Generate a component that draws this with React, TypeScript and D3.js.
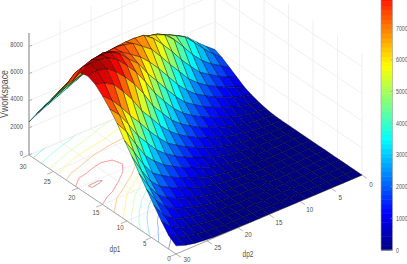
import React from 'react';
import * as d3 from 'd3';

// grid of the surface, one entry every 1.5 units
const dp1Values = d3.range(0, 30.5, 1.5);
const dp2Values = d3.range(0, 30.5, 1.5);

// Vworkspace, rows follow dp1 and columns follow dp2
const vworkspace = [
  [0, 0, 0, 5, 5, 5, 10, 10, 10, 15, 15, 20, 20, 25, 30, 40, 60, 120, 200, 350, 600],
  [0, 5, 5, 5, 10, 10, 10, 15, 15, 15, 20, 20, 25, 30, 45, 90, 150, 260, 390, 560, 1000],
  [0, 5, 5, 10, 10, 10, 15, 15, 15, 20, 20, 25, 35, 50, 110, 180, 300, 430, 610, 1000, 1700],
  [5, 5, 10, 10, 10, 15, 15, 15, 20, 20, 30, 40, 70, 125, 220, 330, 480, 670, 950, 1500, 2500],
  [5, 10, 10, 10, 15, 15, 20, 20, 25, 30, 45, 85, 145, 250, 375, 530, 760, 1020, 1450, 2200, 3300],
  [10, 10, 10, 15, 15, 20, 20, 25, 35, 50, 100, 170, 290, 415, 600, 830, 1120, 1430, 1950, 2900, 4100],
  [10, 15, 15, 20, 20, 20, 25, 40, 60, 110, 210, 320, 470, 650, 930, 1200, 1560, 1940, 2600, 3700, 5000],
  [15, 15, 20, 20, 20, 30, 45, 75, 130, 240, 360, 510, 740, 1000, 1320, 1660, 2080, 2540, 3500, 4700, 5800],
  [15, 20, 20, 25, 30, 50, 95, 160, 270, 400, 570, 810, 1100, 1400, 1790, 2200, 2760, 3470, 4600, 5800, 6700],
  [20, 20, 25, 40, 55, 120, 190, 310, 440, 630, 890, 1180, 1530, 1900, 2360, 2940, 3750, 4580, 5700, 6700, 7400],
  [20, 30, 40, 75, 125, 230, 340, 500, 700, 980, 1270, 1620, 2040, 2480, 3190, 3970, 4870, 5670, 6600, 7400, 8000],
  [30, 45, 90, 150, 260, 390, 550, 790, 1050, 1370, 1740, 2160, 2700, 3400, 4280, 5100, 6200, 7100, 7900, 8300, 8500],
  [50, 110, 180, 300, 430, 610, 860, 1150, 1460, 1860, 2300, 2880, 3680, 4500, 5700, 6700, 7500, 8200, 8700, 8850, 8750],
  [125, 220, 330, 480, 670, 950, 1230, 1590, 1970, 2440, 3085, 3900, 4800, 5900, 6900, 7700, 8400, 8850, 9000, 9000, 8600],
  [250, 375, 530, 760, 1020, 1340, 1690, 2120, 2590, 3320, 4160, 5030, 5880, 6900, 7500, 8200, 8600, 8700, 8650, 8400, 7700],
  [415, 600, 830, 1120, 1430, 1830, 2240, 2820, 3540, 4425, 5285, 6070, 6730, 7200, 7680, 8000, 8200, 8050, 7750, 7600, 6950],
  [650, 930, 1200, 1560, 1940, 2400, 3000, 3820, 4650, 5530, 6350, 6860, 7360, 7550, 7600, 7550, 7450, 7150, 6850, 6500, 6100],
  [1000, 1320, 1660, 2080, 2540, 3260, 4050, 4950, 5750, 6490, 7020, 7100, 7100, 7050, 6950, 6800, 6600, 6350, 6000, 5600, 5200],
  [1350, 1790, 2200, 2760, 3470, 4350, 5180, 5800, 6100, 6300, 6450, 6450, 6300, 6100, 5900, 5700, 5500, 5250, 4950, 4600, 4300],
  [1700, 2300, 2950, 3700, 4400, 4800, 5150, 5500, 5650, 5750, 5800, 5750, 5600, 5400, 5150, 4900, 4650, 4400, 4100, 3750, 3400],
  [1950, 2500, 3100, 3750, 4150, 4500, 4750, 4900, 5000, 5050, 5050, 5000, 4850, 4600, 4300, 4000, 3700, 3400, 3100, 2800, 2440],
];

const dpTicks = [0, 5, 10, 15, 20, 25, 30];
const zTicks = [0, 2000, 4000, 6000, 8000];
const zGrid = [0, 2000, 4000, 6000, 8000];
const barTicks = [0, 1000, 2000, 3000, 4000, 5000, 6000, 7000];
const contourLevels = [1000, 2000, 3000, 4000, 5000, 6000, 7000, 8000, 8950];

const zMax = 9300;
const jetStops = [0, 0.125, 0.375, 0.625, 0.875, 1];
const jetColors = ['#00007f', '#0000ff', '#00ffff', '#ffff00', '#ff0000', '#7f0000'];

const jet = d3.scaleLinear<string>()
  .domain(jetStops.map(d => d * zMax))
  .range(jetColors)
  .clamp(true);

// oblique view: each data axis gets its own screen offset
const xFromDp1 = d3.scaleLinear().domain([0, 30]).range([0, -147]);
const yFromDp1 = d3.scaleLinear().domain([0, 30]).range([0, -99]);
const xFromDp2 = d3.scaleLinear().domain([30, 0]).range([176, 362]);
const yFromDp2 = d3.scaleLinear().domain([30, 0]).range([254, 175]);
const yFromZ = d3.scaleLinear().domain([0, 9000]).range([0, -122]);
const barY = d3.scaleLinear().domain([0, 7000]).range([250, 28]);

// tick labels sit a little further from the axis at one end than at the other
const dp1LabelDx = d3.scaleLinear().domain([0, 30]).range([-7, -6]);
const dp1LabelDy = d3.scaleLinear().domain([0, 30]).range([5, 12]);
const dp2LabelDx = d3.scaleLinear().domain([0, 30]).range([9, 11]);
const dp2LabelDy = d3.scaleLinear().domain([0, 30]).range([10, 6]);

function project(dp1: number, dp2: number, z: number): [number, number] {
  return [xFromDp1(dp1) + xFromDp2(dp2), yFromDp1(dp1) + yFromDp2(dp2) + yFromZ(z)];
}

const line = d3.line();
const gridColor = '#ececec';
const axisColor = '#a0a0a0';
const textColor = '#505050';
const fontFamily = '"Liberation Sans", Arial, sans-serif';

function Label(props: { x: number; y: number; text: string; size?: number; sx?: number; anchor?: string; rotate?: number }) {
  const { x, y, text, size = 8, sx = 0.78, anchor = 'middle', rotate = 0 } = props;
  return (
    <text
      transform={`translate(${x},${y}) rotate(${rotate}) scale(${sx},1)`}
      fontSize={size}
      fontFamily={fontFamily}
      fill={textColor}
      textAnchor={anchor}
      dominantBaseline="middle"
    >
      {text}
    </text>
  );
}

// floor contours: lines along the edge of the grid are left out
function contourPaths() {
  const n = dp2Values.length;
  const m = dp1Values.length;
  const flat: number[] = [];
  vworkspace.forEach(row => row.forEach(v => flat.push(v)));
  const gen = d3.contours().size([n, m]).thresholds(contourLevels);
  const onEdge = (g: number, size: number) => g <= 0.5 || g >= size - 0.5;
  const paths: { d: string; color: string }[] = [];
  gen(flat).forEach(c => {
    const segs: string[] = [];
    c.coordinates.forEach(poly => poly.forEach(ring => {
      for (let k = 1; k < ring.length; k++) {
        const a = ring[k - 1];
        const b = ring[k];
        if ((onEdge(a[0], n) && onEdge(b[0], n)) || (onEdge(a[1], m) && onEdge(b[1], m))) continue;
        const pa = project((a[1] - 0.5) * 1.5, (a[0] - 0.5) * 1.5, 0);
        const pb = project((b[1] - 0.5) * 1.5, (b[0] - 0.5) * 1.5, 0);
        segs.push(line([pa, pb]) as string);
      }
    }));
    const col = d3.interpolateRgb(jet(c.value), '#ffffff')(0.42);
    paths.push({ d: segs.join(''), color: col });
  });
  return paths;
}

// far cells first so the near ones cover them
function surfaceCells() {
  const cells: { d: string; color: string }[] = [];
  for (let i = dp1Values.length - 2; i >= 0; i--) {
    for (let j = 0; j < dp2Values.length - 1; j++) {
      const corners: [number, number][] = [[i, j], [i + 1, j], [i + 1, j + 1], [i, j + 1]];
      const pts = corners.map(([a, b]) => project(dp1Values[a], dp2Values[b], vworkspace[a][b]));
      const mean = d3.mean(corners, ([a, b]) => vworkspace[a][b]) as number;
      cells.push({ d: (line(pts) as string) + 'Z', color: jet(mean) });
    }
  }
  return cells;
}

export default function App() {
  const cells = surfaceCells();
  const contours = contourPaths();
  const barBands = d3.range(0, zMax, zMax / 64);
  const seg = (a: [number, number], b: [number, number]) => line([a, b]) as string;

  return (
    <svg width={407} height={264} style={{ position: 'absolute', left: 0, top: 0, background: '#fff' }}>
      {/* walls and floor grid */}
      <g stroke={gridColor} strokeWidth={0.8} fill="none">
        {dpTicks.map(t => (
          <g key={t}>
            <path d={seg(project(30, t, 0), project(30, t, 9000))} />
            <path d={seg(project(t, 0, 0), project(t, 0, 9000))} />
            <path d={seg(project(t, 0, 0), project(t, 30, 0))} />
            <path d={seg(project(0, t, 0), project(30, t, 0))} />
          </g>
        ))}
        {zGrid.map(z => (
          <g key={z}>
            <path d={seg(project(30, 30, z), project(30, 0, z))} />
            <path d={seg(project(30, 0, z), project(0, 0, z))} />
          </g>
        ))}
      </g>

      {contours.map((c, i) => (
        <path key={i} d={c.d} fill="none" stroke={c.color} strokeWidth={0.7} />
      ))}

      {/* axes */}
      <g stroke={axisColor} fill="none">
        <path d={seg(project(30, 30, 0), project(30, 30, 9000))} strokeWidth={1.3} />
        <path d={seg(project(30, 30, 0), project(0, 30, 0))} strokeWidth={0.9} />
        <path d={seg(project(0, 30, 0), project(0, 0, 0))} strokeWidth={0.9} />
        {dpTicks.map(t => (
          <g key={t} strokeWidth={0.8}>
            <path d={seg(project(t, 30, 0), project(t, 31, 0))} />
            <path d={seg(project(0, t, 0), project(-1, t, 0))} />
          </g>
        ))}
        {zTicks.map(z => (
          <path key={z} d={seg(project(30, 30, z), project(30, 29.5, z))} strokeWidth={0.8} />
        ))}
      </g>

      {/* surface */}
      <g stroke="#000" strokeWidth={0.5} strokeOpacity={0.75} strokeLinejoin="round">
        {cells.map((c, i) => (
          <path key={i} d={c.d} fill={c.color} />
        ))}
      </g>

      {/* tick labels */}
      {zTicks.map(z => (
        <Label key={z} x={23} y={project(30, 30, z)[1] - 1.5} text={String(z)} anchor="end" sx={0.72} />
      ))}
      {dpTicks.map(t => {
        const [x, y] = project(t, 30, 0);
        return <Label key={t} x={x + dp1LabelDx(t)} y={y + dp1LabelDy(t)} text={String(t)} />;
      })}
      {dpTicks.map(t => {
        const [x, y] = project(0, t, 0);
        return <Label key={t} x={x + dp2LabelDx(t)} y={y + dp2LabelDy(t)} text={String(t)} />;
      })}
      <Label x={115} y={250} text="dp1" size={9} sx={0.72} />
      <Label x={248} y={255} text="dp2" size={9} sx={0.72} />
      <Label x={5.5} y={94} text="Vworkspace" size={10} sx={0.88} rotate={-90} />

      {/* colorbar */}
      <g>
        {barBands.map(z => (
          <rect
            key={z}
            x={381}
            width={11.5}
            y={barY(z + zMax / 64)}
            height={barY(z) - barY(z + zMax / 64) + 0.5}
            fill={jet(z + zMax / 128)}
          />
        ))}
        <path d={`M392.5,0V${barY(0)}H381V0`} fill="none" stroke={axisColor} strokeWidth={0.6} />
        {barTicks.map(t => (
          <g key={t}>
            <path d={`M390.5,${barY(t)}H392.5`} stroke={axisColor} strokeWidth={0.6} />
            <Label x={396} y={barY(t) + 0.5} text={String(t)} anchor="start" sx={0.65} />
          </g>
        ))}
      </g>
    </svg>
  );
}
